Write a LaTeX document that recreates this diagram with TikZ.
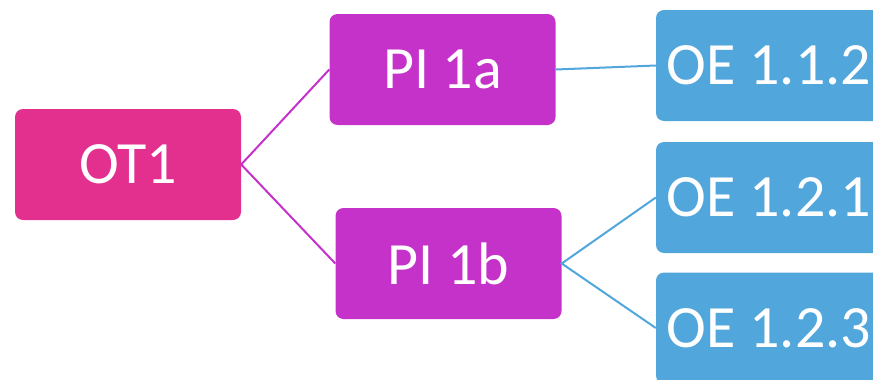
\documentclass[tikz,border=0pt]{standalone}
\usepackage{fontspec}
\setmainfont{Carlito}
\definecolor{otpink}{HTML}{E3308F}
\definecolor{pipurple}{HTML}{C532C9}
\definecolor{oeblue}{HTML}{51A6DC}
\tikzset{
  box/.style={rounded corners=8pt, minimum width=226pt, minimum height=111pt, inner sep=0pt,
    text=white, font=\fontsize{60}{62}\selectfont},
  otbox/.style={box, fill=otpink},
  pibox/.style={box, fill=pipurple},
  oebox/.style={box, fill=oeblue},
  pilink/.style={draw=pipurple, line width=2pt},
  oelink/.style={draw=oeblue, line width=2pt},
}
\begin{document}
\begin{tikzpicture}[x=1pt,y=-1pt]
\useasboundingbox (0,0) rectangle (873,380);
\clip (0,0) rectangle (873,380);
\node[otbox] (ot1) at (128,164.5) {OT1};
\node[pibox] (pi1a) at (442.5,69.5) {PI 1a};
\node[pibox] (pi1b) at (448.5,263.5) {PI 1b};
\node[oebox] (oe112) at (769,65.5) {OE 1.1.2};
\node[oebox] (oe121) at (769,197.5) {OE 1.2.1};
\node[oebox] (oe123) at (769,328) {OE 1.2.3};
\draw[pilink] (pi1a.west) -- (ot1.east) -- (pi1b.west);
\draw[oelink] (pi1a.east) -- (oe112.west);
\draw[oelink] (oe121.west) -- (pi1b.east) -- (oe123.west);
\end{tikzpicture}
\end{document}
